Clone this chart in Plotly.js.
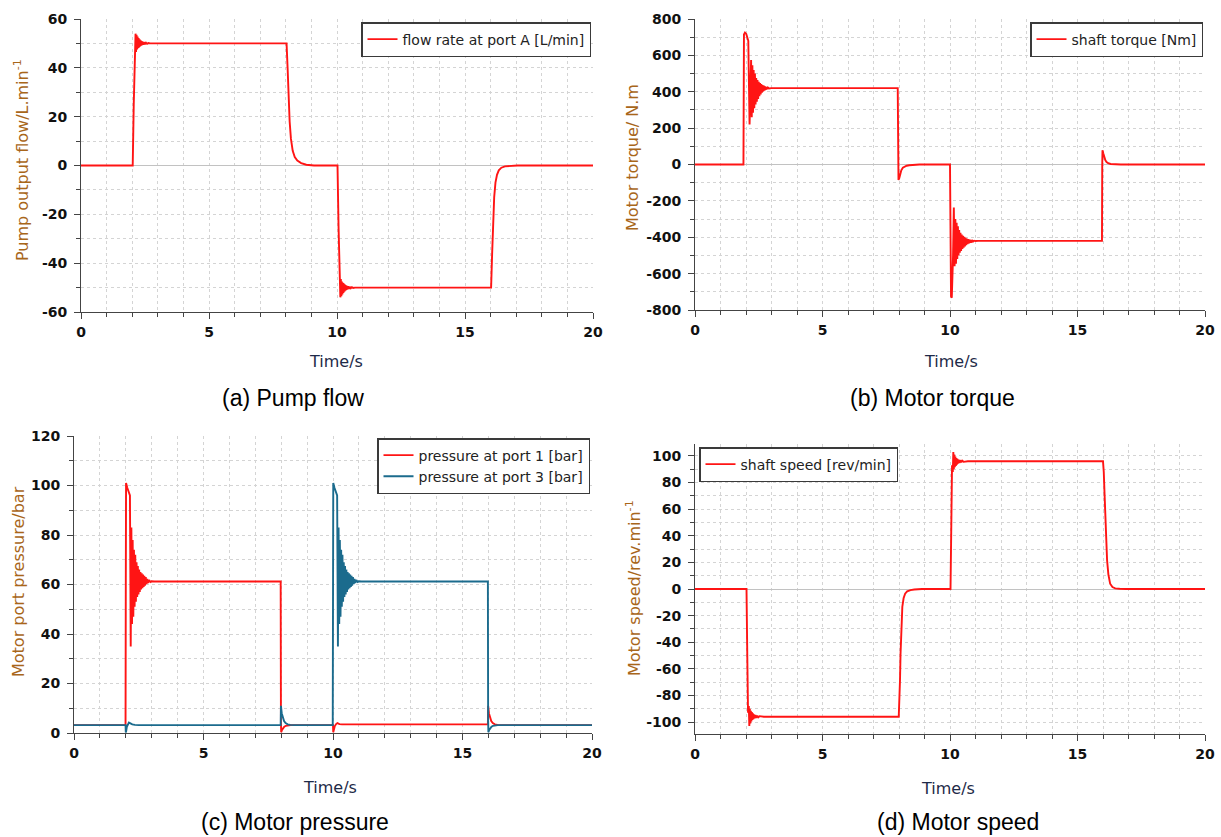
<!DOCTYPE html>
<html><head><meta charset="utf-8">
<script src="https://cdn.plot.ly/plotly-3.0.1.min.js"></script>
<style>html,body{margin:0;padding:0;background:#fff}#chart{width:1221px;height:837px}</style>
</head><body><div id="chart"></div>
<script>
// ---------- DATA ----------
const timeTicks = [0, 5, 10, 15, 20];
const flowTicks = [-60, -40, -20, 0, 20, 40, 60];
const torqueTicks = [-800, -600, -400, -200, 0, 200, 400, 600, 800];
const pressTicks = [0, 20, 40, 60, 80, 100, 120];
const speedTicks = [-100, -80, -60, -40, -20, 0, 20, 40, 60, 80, 100];

const flowName = 'flow rate at port A [L/min]';
const torqueName = 'shaft torque [Nm]';
const p1Name = 'pressure at port 1 [bar]';
const p3Name = 'pressure at port 3 [bar]';
const speedName = 'shaft speed [rev/min]';

const flowT = [0, 2.02, 2.06, 2.10, 2.13, 2.15, 2.17, 2.19, 2.21, 2.23, 2.25, 2.27, 2.29, 2.31, 2.33, 2.35, 2.37, 2.39, 2.41, 2.44, 2.47, 2.50, 2.54, 2.58, 2.63, 2.70, 2.80,
  8.03, 8.07, 8.11, 8.15, 8.20, 8.27, 8.35, 8.45, 8.60, 8.80, 9.10,
  10.02, 10.06, 10.10, 10.13, 10.15, 10.17, 10.19, 10.21, 10.23, 10.25, 10.27, 10.29, 10.31, 10.33, 10.35, 10.37, 10.39, 10.41, 10.44, 10.47, 10.50, 10.54, 10.58, 10.63, 10.70, 10.80,
  16.02, 16.06, 16.10, 16.14, 16.19, 16.25, 16.32, 16.42, 16.56, 16.75, 17.05, 20];
const flowV = [0, 0, 25, 48, 54, 46.5, 53.5, 47.5, 52.8, 48, 52.2, 48.4, 51.7, 48.8, 51.3, 49.1, 50.9, 49.3, 50.7, 49.5, 50.5, 49.7, 50.3, 49.85, 50.15, 50, 50,
  50, 40, 28, 18, 11, 6, 3.5, 2, 1, 0.3, 0,
  0, -25, -48, -54, -46.5, -53.5, -47.5, -52.8, -48, -52.2, -48.4, -51.7, -48.8, -51.3, -49.1, -50.9, -49.3, -50.7, -49.5, -50.5, -49.7, -50.3, -49.85, -50.15, -50, -50,
  -50, -36, -22, -13, -7, -3.8, -2, -0.9, -0.35, -0.1, 0, 0];

const torqueT = [0, 1.90, 1.92, 1.96, 2.01, 2.05, 2.09, 2.14, 2.17, 2.20, 2.225, 2.25, 2.275, 2.30, 2.325, 2.35, 2.375, 2.40, 2.425, 2.45, 2.475, 2.50, 2.525, 2.55, 2.575, 2.60, 2.625, 2.65, 2.675, 2.70, 2.725, 2.75, 2.775, 2.80, 2.83, 2.86, 2.90, 2.95, 3.0,
  7.95, 7.96, 7.98, 8.01, 8.05, 8.09, 8.15, 8.22, 8.30, 8.40, 8.55, 8.80,
  10.00, 10.02, 10.04, 10.07, 10.10, 10.12, 10.15, 10.18, 10.21, 10.235, 10.26, 10.285, 10.31, 10.335, 10.36, 10.385, 10.41, 10.435, 10.46, 10.485, 10.51, 10.535, 10.56, 10.585, 10.61, 10.635, 10.66, 10.69, 10.72, 10.75, 10.78, 10.82, 10.86, 10.90, 10.95, 11.0, 11.1,
  15.96, 15.97, 15.98, 16.01, 16.05, 16.09, 16.14, 16.20, 16.30, 16.45, 16.70, 20];
const torqueV = [0, 0, 715, 725, 718, 700, 680, 220, 400, 575, 260, 545, 285, 520, 310, 500, 330, 475, 345, 465, 360, 455, 375, 448, 385, 442, 395, 437, 402, 433, 407, 429, 411, 426, 414, 423, 418, 421, 420,
  420, 100, -85, -75, -52, -32, -18, -11, -7, -4, -1.5, 0,
  0, -400, -725, -733, -620, -500, -236, -560, -300, -545, -320, -520, -340, -500, -360, -485, -375, -475, -385, -465, -392, -458, -398, -450, -403, -444, -407, -438, -411, -433, -414, -429, -416, -424, -419, -421, -420,
  -420, 0, 78, 62, 40, 24, 13, 7, 3, 1, 0, 0];

const p1T = [0, 1.99, 2.00, 2.01, 2.06, 2.12, 2.16, 2.19, 2.215, 2.24, 2.265, 2.29, 2.315, 2.34, 2.365, 2.39, 2.415, 2.44, 2.465, 2.49, 2.515, 2.54, 2.565, 2.59, 2.615, 2.64, 2.665, 2.69, 2.715, 2.74, 2.77, 2.80, 2.83, 2.86, 2.90, 2.95, 3.0, 3.1,
  7.98, 7.99, 8.00, 8.03, 8.07, 8.12, 8.18, 8.26, 8.36, 8.50,
  10.00, 10.01, 10.03, 10.07, 10.12, 10.17, 10.25, 10.35,
  15.98, 15.99, 16.02, 16.06, 16.11, 16.17, 16.25, 16.35, 16.50, 20];
const p1V = [3.2, 3.2, 60, 101, 99, 97, 96, 35, 83, 44, 78, 47, 74, 51, 72, 53, 69, 55, 67.5, 56, 66, 57, 65, 58, 64.5, 58.5, 64, 59, 63.5, 59.5, 63, 60.2, 62.3, 60.6, 61.8, 61, 61.3, 61.2,
  61.2, 5, 0.3, 1.2, 2.0, 2.5, 2.9, 3.1, 3.2, 3.2,
  3.2, 0.3, 1.5, 2.8, 3.6, 4.0, 3.6, 3.5,
  3.5, 11, 8, 6, 4.8, 4.0, 3.5, 3.3, 3.2, 3.2];

const p3T = [0, 1.99, 2.00, 2.01, 2.04, 2.08, 2.12, 2.18, 2.25, 2.35, 2.50,
  7.98, 7.99, 8.02, 8.06, 8.11, 8.17, 8.25, 8.35, 8.50,
  9.99, 10.00, 10.01, 10.06, 10.12, 10.16, 10.19, 10.215, 10.24, 10.265, 10.29, 10.315, 10.34, 10.365, 10.39, 10.415, 10.44, 10.465, 10.49, 10.515, 10.54, 10.565, 10.59, 10.615, 10.64, 10.665, 10.69, 10.715, 10.74, 10.77, 10.80, 10.83, 10.86, 10.90, 10.95, 11.0, 11.1,
  15.98, 15.99, 16.00, 16.03, 16.07, 16.12, 16.18, 16.26, 16.36, 16.50, 20];
const p3V = [3.2, 3.2, 0.2, 0.5, 2.5, 3.8, 4.2, 3.9, 3.5, 3.3, 3.2,
  3.2, 11, 8, 6, 4.8, 4.0, 3.5, 3.3, 3.2,
  3.2, 60, 101, 99, 97, 96, 35, 83, 44, 78, 47, 74, 51, 72, 53, 69, 55, 67.5, 56, 66, 57, 65, 58, 64.5, 58.5, 64, 59, 63.5, 59.5, 63, 60.2, 62.3, 60.6, 61.8, 61, 61.3, 61.2,
  61.2, 5, 0.3, 1.2, 2.0, 2.5, 2.9, 3.1, 3.2, 3.2, 3.2];

const speedT = [0, 2.02, 2.05, 2.08, 2.11, 2.13, 2.15, 2.17, 2.19, 2.21, 2.23, 2.25, 2.27, 2.29, 2.31, 2.34, 2.37, 2.40, 2.44, 2.48, 2.53, 2.60, 2.70,
  7.99, 8.02, 8.04, 8.06, 8.09, 8.13, 8.18, 8.24, 8.32, 8.45, 8.60, 8.90,
  10.02, 10.05, 10.08, 10.11, 10.13, 10.15, 10.17, 10.19, 10.21, 10.23, 10.25, 10.27, 10.29, 10.31, 10.34, 10.37, 10.40, 10.44, 10.48, 10.53, 10.60, 10.70,
  16.00, 16.03, 16.06, 16.09, 16.12, 16.16, 16.21, 16.28, 16.37, 16.48, 16.65, 16.90, 20];
const speedV = [0, 0, -50, -93, -88, -103, -90, -101, -91.5, -99.5, -92.5, -98.5, -93.5, -97.8, -94.2, -97.2, -94.7, -96.8, -95.2, -96.4, -95.6, -96, -96,
  -96, -85, -68, -49, -28, -13.5, -7, -3.5, -1.8, -0.8, -0.4, 0,
  0, 50, 93, 88, 103, 90, 101, 91.5, 99.5, 92.5, 98.5, 93.5, 97.8, 94.2, 97.2, 94.7, 96.8, 95.2, 96.4, 95.6, 96, 96,
  96, 88, 72, 52, 35, 21.6, 11, 4, 1.5, 0.5, 0.15, 0, 0];

const captions = ['(a) Pump flow', '(b) Motor torque', '(c) Motor pressure', '(d) Motor speed'];
const yTitles = ['Pump output flow/L.min<sup>-1</sup>', 'Motor torque/ N.m', 'Motor port pressure/bar', 'Motor speed/rev.min<sup>-1</sup>'];
const xTitle = 'Time/s';

// ---------- LAYOUT HELPERS ----------
const W = 1221, H = 837;
const px = x => x / W;
const py = y => 1 - y / H;
const RED = '#ff1414', BLUE = '#1b6b8d';
const GRID = '#d4d4d4', AXIS = '#444', FRAME = '#d6d6d6';
const tickFont = {family: 'DejaVu Sans', size: 14, color: '#111', weight: 'bold'};

function xAxis(l, r, anchor) {
  return {
    domain: [px(l), px(r)], anchor: anchor, range: [0, 20],
    tickmode: 'array', tickvals: timeTicks, ticktext: timeTicks.map(String),
    showline: true, linecolor: AXIS, linewidth: 1,
    ticks: 'outside', ticklen: 6, tickcolor: AXIS, tickwidth: 1,
    tickfont: tickFont, ticklabelstandoff: 1,
    showgrid: true, gridcolor: GRID, griddash: 'dot', gridwidth: 1,
    zeroline: false, fixedrange: true,
    minor: {tickmode: 'linear', tick0: 0, dtick: 1, ticks: 'outside', ticklen: 4, tickcolor: AXIS,
            showgrid: true, gridcolor: GRID, griddash: 'dot', gridwidth: 1}
  };
}
function yAxis(top, bottom, anchor, range, ticks, minorStep) {
  return {
    domain: [py(bottom), py(top)], anchor: anchor, range: range,
    tickmode: 'array', tickvals: ticks, ticktext: ticks.map(String),
    showline: true, linecolor: AXIS, linewidth: 1,
    ticks: 'outside', ticklen: 6, tickcolor: AXIS, tickwidth: 1,
    tickfont: tickFont, ticklabelstandoff: 4,
    showgrid: true, gridcolor: GRID, griddash: 'dot', gridwidth: 1,
    zeroline: true, zerolinecolor: '#c2c2c2', zerolinewidth: 1, fixedrange: true,
    minor: {tickmode: 'linear', tick0: 0, dtick: minorStep, ticks: 'outside', ticklen: 4, tickcolor: AXIS,
            showgrid: true, gridcolor: GRID, griddash: 'dot', gridwidth: 1}
  };
}
// light grey top / right frame lines via overlaying axes
function topAxis(l, r, over, anchor) {
  return {domain: [px(l), px(r)], overlaying: over, anchor: anchor, side: 'top', range: [0, 20],
    showline: true, linecolor: FRAME, linewidth: 1, showgrid: false, zeroline: false,
    showticklabels: false, ticks: '', fixedrange: true};
}
function rightAxis(top, bottom, over, anchor, range) {
  return {domain: [py(bottom), py(top)], overlaying: over, anchor: anchor, side: 'right', range: range,
    showline: true, linecolor: FRAME, linewidth: 1, showgrid: false, zeroline: false,
    showticklabels: false, ticks: '', fixedrange: true};
}
function legendBox(x, y, xanchor) {
  return {x: px(x), y: py(y), xref: 'paper', yref: 'paper', xanchor: xanchor, yanchor: 'top',
    bgcolor: '#ffffff', bordercolor: '#3a3a3a', borderwidth: 1.5,
    font: {family: 'DejaVu Sans', size: 14, color: '#222'}, tracegroupgap: 2};
}
function ann(text, x, y, font, angle) {
  return {text: text, x: px(x), y: py(y), xref: 'paper', yref: 'paper', showarrow: false,
    xanchor: 'center', yanchor: 'middle', font: font, textangle: angle || 0};
}
const yTitleFont = {family: 'DejaVu Sans', size: 16, color: '#a8661a'};
const xTitleFont = {family: 'DejaVu Sans', size: 16, color: '#1e2a48'};
const capFont = {family: 'Liberation Sans, Arial', size: 23, color: '#000'};

const line = c => ({color: c, width: 1.9});
const traces = [
  {x: flowT, y: flowV, name: flowName, type: 'scatter', mode: 'lines', line: line(RED), xaxis: 'x', yaxis: 'y', legend: 'legend'},
  {x: torqueT, y: torqueV, name: torqueName, type: 'scatter', mode: 'lines', line: line(RED), xaxis: 'x2', yaxis: 'y2', legend: 'legend2'},
  {x: p1T, y: p1V, name: p1Name, type: 'scatter', mode: 'lines', line: line(RED), xaxis: 'x3', yaxis: 'y3', legend: 'legend3'},
  {x: p3T, y: p3V, name: p3Name, type: 'scatter', mode: 'lines', line: line(BLUE), xaxis: 'x3', yaxis: 'y3', legend: 'legend3'},
  {x: speedT, y: speedV, name: speedName, type: 'scatter', mode: 'lines', line: line(RED), xaxis: 'x4', yaxis: 'y4', legend: 'legend4'}
];

const layout = {
  width: W, height: H, margin: {l: 0, r: 0, t: 0, b: 0},
  paper_bgcolor: '#fff', plot_bgcolor: '#fff', hovermode: false, showlegend: true,
  font: {family: 'DejaVu Sans', color: '#111'},
  xaxis: xAxis(81, 593, 'y'),
  yaxis: yAxis(19, 312, 'x', [-60, 60], flowTicks, 10),
  xaxis2: xAxis(695, 1205, 'y2'),
  yaxis2: yAxis(19, 310, 'x2', [-800, 800], torqueTicks, 100),
  xaxis3: xAxis(74, 592, 'y3'),
  yaxis3: yAxis(436, 733, 'x3', [0, 120], pressTicks, 10),
  xaxis4: xAxis(695, 1205, 'y4'),
  yaxis4: yAxis(444, 734, 'x4', [-109, 109], speedTicks, 10),
  xaxis5: topAxis(81, 593, 'x', 'y'),
  yaxis5: rightAxis(19, 312, 'y', 'x', [-60, 60]),
  xaxis6: topAxis(695, 1205, 'x2', 'y2'),
  yaxis6: rightAxis(19, 310, 'y2', 'x2', [-800, 800]),
  xaxis7: topAxis(74, 592, 'x3', 'y3'),
  yaxis7: rightAxis(436, 733, 'y3', 'x3', [0, 120]),
  xaxis8: topAxis(695, 1205, 'x4', 'y4'),
  yaxis8: rightAxis(444, 734, 'y4', 'x4', [-109, 109]),
  legend: legendBox(591, 22, 'right'),
  legend2: legendBox(1203, 22, 'right'),
  legend3: legendBox(590, 438, 'right'),
  legend4: legendBox(699, 447, 'left'),
  annotations: [
    ann(yTitles[0], 22, 160, yTitleFont, -90),
    ann(yTitles[1], 633, 158, yTitleFont, -90),
    ann(yTitles[2], 18, 582, yTitleFont, -90),
    ann(yTitles[3], 633, 588, yTitleFont, -90),
    ann(xTitle, 336, 361, xTitleFont),
    ann(xTitle, 951, 361, xTitleFont),
    ann(xTitle, 330, 787, xTitleFont),
    ann(xTitle, 948, 788, xTitleFont),
    ann(captions[0], 293, 398, capFont),
    ann(captions[1], 932, 398, capFont),
    ann(captions[2], 295, 822, capFont),
    ann(captions[3], 958, 822, capFont)
  ]
};

Plotly.newPlot('chart', traces, layout, {displayModeBar: false, staticPlot: true});
</script>
</body></html>
